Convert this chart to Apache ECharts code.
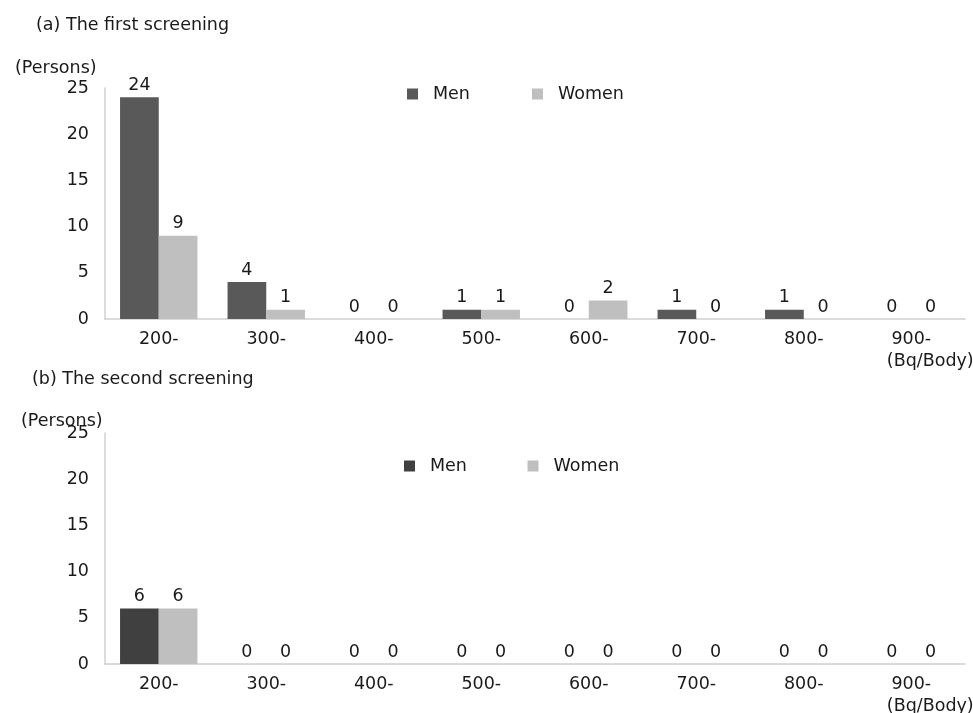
<!DOCTYPE html>
<html>
<head>
<meta charset="utf-8">
<script src="https://cdn.jsdelivr.net/npm/echarts@6/dist/echarts.min.js"></script>
<style>
  html, body { margin: 0; padding: 0; background: #fff; }
  #chart { width: 973px; height: 713px; }
</style>
</head>
<body>
<div id="chart"></div>
<script>
// bins (Bq/Body)
const categories = ['200-', '300-', '400-', '500-', '600-', '700-', '800-', '900-'];
const yTicks = [0, 5, 10, 15, 20, 25];

// first screening
const firstMen = [24, 4, 0, 1, 0, 1, 1, 0];
const firstWomen = [9, 1, 0, 1, 2, 0, 0, 0];

// second screening
const secondMen = [6, 0, 0, 0, 0, 0, 0, 0];
const secondWomen = [6, 0, 0, 0, 0, 0, 0, 0];

const font = 'DejaVu Sans, sans-serif';
const txt = { fontFamily: font, fontSize: 17.5, color: '#1a1a1a', fontWeight: 'normal' };
const withTxt = (extra) => Object.assign({}, txt, extra);

const chart = echarts.init(document.getElementById('chart'));

const makeX = (gridIndex) => ({
  type: 'category',
  gridIndex,
  data: categories,
  axisLine: { lineStyle: { color: '#d0d0d0', width: 1.5 } },
  axisTick: { show: false },
  axisLabel: withTxt({
    interval: 0,
    margin: 9,
    lineHeight: 22,
    formatter: (v, i) => i === categories.length - 1 ? v + '\n{u|(Bq/Body)}' : v,
    rich: { u: withTxt({ lineHeight: 22, padding: [0, 0, 0, 38] }) }
  })
});

const makeY = (gridIndex) => ({
  type: 'value',
  gridIndex,
  min: yTicks[0],
  max: yTicks[yTicks.length - 1],
  interval: 5,
  axisLine: { show: true, lineStyle: { color: '#d0d0d0', width: 1.5 } },
  axisTick: { show: false },
  splitLine: { show: false },
  axisLabel: withTxt({ margin: 16 })
});

const makeBar = (name, data, idx, color) => ({
  name,
  type: 'bar',
  xAxisIndex: idx,
  yAxisIndex: idx,
  data,
  barWidth: '36%',
  barGap: '0%',
  itemStyle: { color },
  label: withTxt({ show: true, position: 'top', distance: 3 })
});

const legendText = withTxt({ padding: [0, 0, 0, 10] });

const option = {
  animation: false,
  title: [
    { text: '(a) The first screening', left: 36, top: 16, padding: 0, textStyle: txt },
    { text: '(Persons)', left: 15, top: 59, padding: 0, textStyle: txt },
    { text: '(b) The second screening', left: 32, top: 370, padding: 0, textStyle: txt },
    { text: '(Persons)', left: 21, top: 412, padding: 0, textStyle: txt }
  ],
  legend: [
    {
      left: 407, top: 85, padding: 0, itemWidth: 11, itemHeight: 11, itemGap: 62,
      icon: 'rect', textStyle: legendText,
      data: [
        { name: 'Men', itemStyle: { color: '#595959' } },
        { name: 'Women', itemStyle: { color: '#bfbfbf' } }
      ]
    },
    {
      left: 404, top: 457, padding: 0, itemWidth: 11, itemHeight: 11, itemGap: 55,
      icon: 'rect', textStyle: legendText,
      data: [
        { name: 'Men ', itemStyle: { color: '#404040' } },
        { name: 'Women ', itemStyle: { color: '#bfbfbf' } }
      ]
    }
  ],
  grid: [
    { left: 105, top: 88, width: 860, height: 231, outerBoundsMode: 'none' },
    { left: 105, top: 433, width: 860, height: 231, outerBoundsMode: 'none' }
  ],
  xAxis: [makeX(0), makeX(1)],
  yAxis: [makeY(0), makeY(1)],
  series: [
    makeBar('Men', firstMen, 0, '#595959'),
    makeBar('Women', firstWomen, 0, '#bfbfbf'),
    makeBar('Men ', secondMen, 1, '#404040'),
    makeBar('Women ', secondWomen, 1, '#bfbfbf')
  ]
};

chart.setOption(option);
</script>
</body>
</html>
